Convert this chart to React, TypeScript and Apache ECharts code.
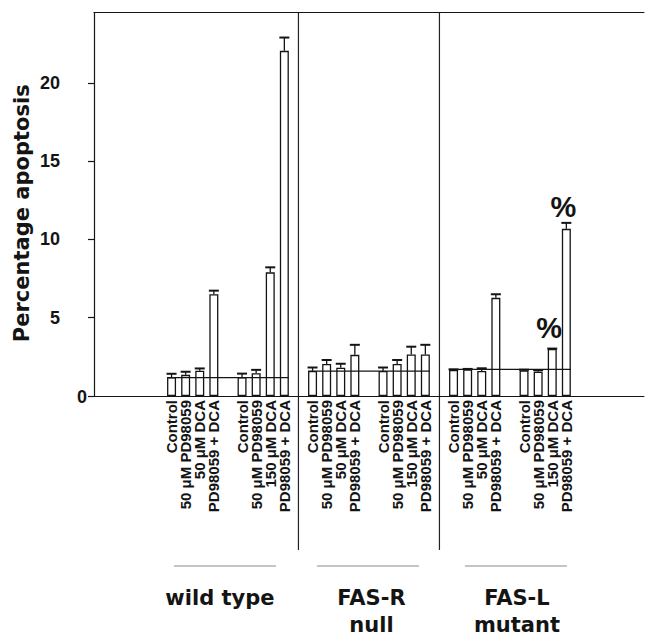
import React, { useEffect, useRef } from "react";
import * as echarts from "echarts";

// ---- data ----
const conditionLabels = [
  "Control",
  "50 μM PD98059",
  "50 μM DCA",
  "PD98059 + DCA",
  "",
  "Control",
  "50 μM PD98059",
  "150 μM DCA",
  "PD98059 + DCA",
];
const groupNames = ["wild type", "FAS-R\nnull", "FAS-L\nmutant"];

const wildTypeValues = [1.2, 1.35, 1.62, 6.5, null, 1.2, 1.45, 7.9, 22.05];
const wildTypeErrors = [0.22, 0.2, 0.14, 0.23, null, 0.23, 0.22, 0.32, 0.85];
const fasRNullValues = [1.6, 2.05, 1.8, 2.63, null, 1.6, 2.05, 2.65, 2.65];
const fasRNullErrors = [0.22, 0.25, 0.26, 0.64, null, 0.22, 0.25, 0.5, 0.62];
const fasLMutantValues = [1.66, 1.7, 1.6, 6.27, null, 1.64, 1.56, 3.0, 10.68];
const fasLMutantErrors = [0.04, 0.03, 0.17, 0.23, null, 0.04, 0.1, 0.03, 0.38];
const controlLevels = [1.18, 1.59, 1.7];
const wildTypeMarks = ["", "", "", "", "", "", "", "", ""];
const fasRNullMarks = ["", "", "", "", "", "", "", "", ""];
const fasLMutantMarks = ["", "", "", "", "", "", "", "%", "%"];

const yTickValues = [0, 5, 10, 15, 20];
const yLabelValues = [5, 10, 15, 20];
const yMax = 24.5;
const yTitle = "Percentage apoptosis";

// ---- layout constants ----
const W = 646;
const H = 638;
const LEAD = 5;
const TRAIL = 5;
const SLOT = 14.1;
const GRID_LEFT = 94;
const GRID_TOP = 12.5;
const BASE_Y = 396;
const BAR_W = 9;
const INK = "#141414";
const labelFont = "Liberation Sans";
const titleFont = "DejaVu Sans";

const groups = [
  { values: wildTypeValues, errors: wildTypeErrors, marks: wildTypeMarks },
  { values: fasRNullValues, errors: fasRNullErrors, marks: fasRNullMarks },
  { values: fasLMutantValues, errors: fasLMutantErrors, marks: fasLMutantMarks },
];

const cats: string[] = [];
const labelMap: Record<string, string> = {};
const barData: any[] = [];
const errData: number[][] = [];
const lineData: number[][] = [];
const spans: number[][] = [];
const dividers: number[] = [];

function pushBlank() {
  const k = "c" + cats.length;
  cats.push(k);
  labelMap[k] = "";
  barData.push(null);
}
for (let i = 0; i < LEAD; i++) pushBlank();
groups.forEach((g, gi) => {
  if (gi > 0) {
    dividers.push(cats.length);
    pushBlank();
  }
  const start = cats.length;
  g.values.forEach((v, j) => {
    const idx = cats.length;
    const k = "c" + idx;
    cats.push(k);
    labelMap[k] = conditionLabels[j];
    if (v == null) {
      barData.push(null);
    } else {
      barData.push(
        g.marks[j]
          ? { value: v, label: { show: true, formatter: g.marks[j] } }
          : { value: v }
      );
      errData.push([idx, v, g.errors[j] as number]);
    }
  });
  const end = cats.length - 1;
  lineData.push([start, end, controlLevels[gi]]);
  spans.push([start, end]);
});
for (let i = 0; i < TRAIL; i++) pushBlank();

const gridRight = W - GRID_LEFT - cats.length * SLOT;

const groupLabelDx = [-8, 2.5, 7];
const groupLineDx = [-3, -1, 6];

export default function App() {
  const ref = useRef<HTMLDivElement>(null);
  useEffect(() => {
    if (!ref.current) return;
    const chart = echarts.init(ref.current, null, { renderer: "svg" });
    const axisLineStyle = { color: INK, width: 1.2 };
    chart.setOption({
      animation: false,
      backgroundColor: "#ffffff",
      grid: {
        left: GRID_LEFT,
        top: GRID_TOP,
        right: gridRight,
        bottom: H - BASE_Y,
        containLabel: false,
        outerBoundsMode: "none",
      },
      xAxis: [
        {
          type: "category",
          data: cats,
          position: "bottom",
          boundaryGap: true,
          axisLine: { show: true, onZero: false, lineStyle: axisLineStyle },
          axisTick: { show: false },
          splitLine: { show: false },
          axisLabel: {
            interval: 0,
            rotate: 90,
            margin: 4,
            formatter: (v: string) => labelMap[v] || "",
            fontFamily: labelFont,
            fontWeight: "bold",
            fontSize: 15,
            color: INK,
          },
        },
        {
          type: "category",
          data: cats,
          position: "top",
          axisLine: { show: true, onZero: false, lineStyle: axisLineStyle },
          axisTick: { show: false },
          axisLabel: { show: false },
          splitLine: { show: false },
        },
      ],
      yAxis: {
        type: "value",
        min: 0,
        max: yMax,
        interval: 5,
        axisLine: { show: true, lineStyle: axisLineStyle },
        axisTick: {
          show: true,
          length: 6,
          inside: false,
          customValues: yTickValues,
          lineStyle: axisLineStyle,
        },
        axisLabel: {
          customValues: yLabelValues,
          margin: 34,
          fontFamily: labelFont,
          fontWeight: "bold",
          fontSize: 18,
          color: INK,
        },
        splitLine: { show: false },
        name: yTitle,
        nameLocation: "middle",
        nameRotate: 90,
        nameGap: 62,
        nameMoveOverlap: false,
        nameTextStyle: {
          fontFamily: titleFont,
          fontWeight: "bold",
          fontSize: 21,
          color: INK,
          padding: [0, 18, 0, 0],
        },
      },
      series: [
        {
          type: "bar",
          xAxisIndex: 0,
          data: barData,
          barWidth: BAR_W,
          itemStyle: {
            color: "rgba(255,255,255,0)",
            borderColor: INK,
            borderWidth: 1.3,
          },
          label: {
            show: false,
            position: "top",
            distance: 7,
            offset: [-3, 0],
            fontFamily: labelFont,
            fontWeight: "bold",
            fontSize: 29,
            color: INK,
          },
          z: 2,
        },
        {
          type: "custom",
          xAxisIndex: 0,
          data: errData,
          encode: { x: 0, y: 1 },
          z: 3,
          renderItem: (params: any, api: any) => {
            const x = api.value(0);
            const v = api.value(1);
            const e = api.value(2);
            const p0 = api.coord([x, v]);
            const p1 = api.coord([x, v + e]);
            return {
              type: "group",
              children: [
                {
                  type: "line",
                  shape: { x1: p0[0], y1: p0[1], x2: p1[0], y2: p1[1] },
                  style: { stroke: INK, lineWidth: 1.3 },
                },
                {
                  type: "line",
                  shape: { x1: p1[0] - 5, y1: p1[1], x2: p1[0] + 5, y2: p1[1] },
                  style: { stroke: INK, lineWidth: 2 },
                },
              ],
            };
          },
        },
        {
          type: "custom",
          xAxisIndex: 0,
          data: lineData,
          encode: { x: [0, 1], y: 2 },
          z: 4,
          renderItem: (params: any, api: any) => {
            const a = api.coord([api.value(0), api.value(2)]);
            const b = api.coord([api.value(1), api.value(2)]);
            return {
              type: "line",
              shape: { x1: a[0] - BAR_W / 2, y1: a[1], x2: b[0] + BAR_W / 2, y2: b[1] },
              style: { stroke: INK, lineWidth: 1.3 },
            };
          },
        },
      ],
    });

    const px = (idx: number) => chart.convertToPixel({ xAxisIndex: 0 }, cats[idx]) as number;
    const py = (v: number) => chart.convertToPixel({ yAxisIndex: 0 }, v) as number;
    const yTop = py(yMax);
    const y0 = py(0);
    const graphic: any[] = [];
    dividers.forEach((d) => {
      const x = px(d);
      graphic.push({
        type: "line",
        shape: { x1: x, y1: yTop, x2: x, y2: 550 },
        style: { stroke: "#222", lineWidth: 1.2 },
      });
    });
    spans.forEach((s, gi) => {
      const c = (px(s[0]) + px(s[1])) / 2;
      graphic.push({
        type: "line",
        shape: { x1: c + groupLineDx[gi] - 51, y1: 566, x2: c + groupLineDx[gi] + 51, y2: 566 },
        style: { stroke: "#8a8a8a", lineWidth: 1 },
      });
      graphic.push({
        type: "text",
        x: c + groupLabelDx[gi],
        y: 584,
        style: {
          text: groupNames[gi],
          fontFamily: titleFont,
          fontWeight: "bold",
          fontSize: 21,
          lineHeight: 27,
          fill: INK,
          align: "center",
          verticalAlign: "top",
        },
      });
    });
    graphic.push({
      type: "text",
      x: 87,
      y: y0 + 1,
      style: {
        text: String(yTickValues[0]),
        fontFamily: labelFont,
        fontWeight: "bold",
        fontSize: 18,
        fill: INK,
        align: "right",
        verticalAlign: "middle",
      },
    });
    chart.setOption({ graphic });

    return () => chart.dispose();
  }, []);
  return (
    <div
      ref={ref}
      style={{ position: "fixed", left: 0, top: 0, width: W, height: H, background: "#fff" }}
    />
  );
}
